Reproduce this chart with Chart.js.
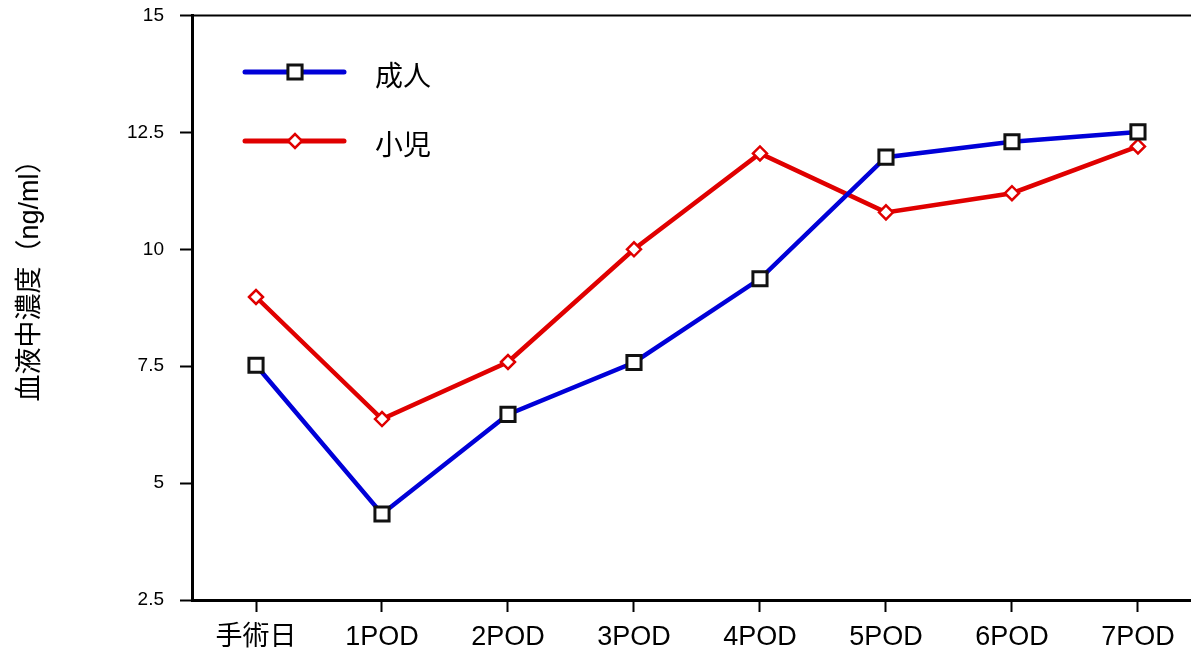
<!DOCTYPE html>
<html>
<head>
<meta charset="utf-8">
<script src="https://cdn.jsdelivr.net/npm/chart.js@4"></script>
<style>
  html, body { margin: 0; padding: 0; background: #fff; overflow: hidden; }
  canvas { display: block; }
</style>
</head>
<body>
<canvas id="c" width="1191" height="655" style="width:1191px;height:655px"></canvas>
<script>
// Categories (days after surgery)
const categories = ['手術日', '1POD', '2POD', '3POD', '4POD', '5POD', '6POD', '7POD'];
// Blood concentration (ng/ml)
const adultValues = [7.52, 4.34, 6.47, 7.58, 9.37, 11.97, 12.30, 12.51];
const childValues = [8.98, 6.37, 7.59, 10.0, 12.05, 10.79, 11.20, 12.20];
const yTicks = [2.5, 5, 7.5, 10, 12.5, 15];
const yTitle = '血液中濃度（ng/ml）';
const seriesNames = ['成人', '小児'];

const BLUE = '#0000d8';
const RED = '#e00000';
const CJK = '"Liberation Sans", "Noto Sans CJK JP", sans-serif';

const toPoints = vals => vals.map((v, i) => ({ x: i, y: v }));

// Legend inside the plot, plus the frame line along the top and the rotated y title
const decorations = {
  id: 'decorations',
  afterDraw(chart) {
    const ctx = chart.ctx;
    const area = chart.chartArea;
    ctx.save();
    // top frame line
    ctx.strokeStyle = '#000';
    ctx.lineWidth = 2;
    ctx.beginPath();
    ctx.moveTo(area.left, area.top);
    ctx.lineTo(area.right, area.top);
    ctx.stroke();

    // y title
    ctx.fillStyle = '#000';
    ctx.font = '27px ' + CJK;
    ctx.textAlign = 'center';
    ctx.textBaseline = 'middle';
    ctx.translate(31, 274);
    ctx.rotate(-Math.PI / 2);
    ctx.fillText(yTitle, 0, 0);
    ctx.restore();

    // legend
    const rows = [{ y: 72, ds: 0 }, { y: 141, ds: 1 }];
    rows.forEach(r => {
      const ds = chart.data.datasets[r.ds];
      ctx.save();
      ctx.strokeStyle = ds.borderColor;
      ctx.lineWidth = 5;
      ctx.lineCap = 'round';
      ctx.beginPath();
      ctx.moveTo(245, r.y);
      ctx.lineTo(344, r.y);
      ctx.stroke();
      ctx.restore();
      ctx.save();
      ctx.fillStyle = ds.pointBackgroundColor;
      ctx.strokeStyle = ds.pointBorderColor;
      ctx.lineWidth = ds.pointBorderWidth;
      Chart.helpers.drawPoint(ctx, {
        pointStyle: ds.pointStyle,
        radius: ds.pointRadius,
        rotation: 0,
        borderWidth: ds.pointBorderWidth
      }, 295, r.y);
      ctx.restore();
      ctx.save();
      ctx.fillStyle = '#000';
      ctx.font = '28px ' + CJK;
      ctx.textAlign = 'left';
      ctx.textBaseline = 'middle';
      ctx.fillText(ds.label, 375, r.y + 6);
      ctx.restore();
    });
  }
};

new Chart(document.getElementById('c'), {
  type: 'line',
  data: {
    datasets: [
      {
        label: seriesNames[0],
        data: toPoints(adultValues),
        borderColor: BLUE,
        borderWidth: 4.5,
        pointStyle: 'rect',
        pointRadius: 10,
        pointHoverRadius: 10,
        pointBackgroundColor: '#fff',
        pointBorderColor: '#111',
        pointBorderWidth: 3,
        tension: 0
      },
      {
        label: seriesNames[1],
        data: toPoints(childValues),
        borderColor: RED,
        borderWidth: 4.5,
        pointStyle: 'rectRot',
        pointRadius: 7,
        pointHoverRadius: 7,
        pointBackgroundColor: '#fff',
        pointBorderColor: RED,
        pointBorderWidth: 2.5,
        tension: 0
      }
    ]
  },
  options: {
    responsive: false,
    animation: false,
    events: [],
    layout: { autoPadding: false, padding: { top: 15.5, right: 0, bottom: 0, left: 0 } },
    plugins: {
      legend: { display: false },
      tooltip: { enabled: false }
    },
    scales: {
      x: {
        type: 'linear',
        min: -0.508,
        max: 7.421,
        afterBuildTicks(scale) {
          scale.ticks = categories.map((_, i) => ({ value: i }));
        },
        afterFit(scale) {
          scale.height = 55;
          scale.paddingLeft = 0;
          scale.paddingRight = 0;
        },
        grid: {
          drawOnChartArea: false,
          drawTicks: true,
          tickLength: 12,
          tickWidth: 2,
          color: '#000'
        },
        border: { display: true, color: '#000', width: 3 },
        ticks: {
          color: '#000',
          font: { family: CJK, size: 27 },
          padding: 9,
          maxRotation: 0,
          autoSkip: false,
          callback: v => categories[v]
        }
      },
      y: {
        min: 2.5,
        max: 15,
        afterBuildTicks(scale) {
          scale.ticks = yTicks.map(v => ({ value: v }));
        },
        afterFit(scale) {
          scale.width = 192;
          scale.paddingTop = 0;
          scale.paddingBottom = 0;
        },
        grid: {
          drawOnChartArea: false,
          drawTicks: true,
          tickLength: 12,
          tickWidth: 2,
          color: '#000'
        },
        border: { display: true, color: '#000', width: 3 },
        ticks: {
          color: '#000',
          font: { family: '"Liberation Sans", sans-serif', size: 19 },
          padding: 16,
          callback: v => String(v)
        }
      }
    }
  },
  plugins: [decorations]
});
</script>
</body>
</html>
